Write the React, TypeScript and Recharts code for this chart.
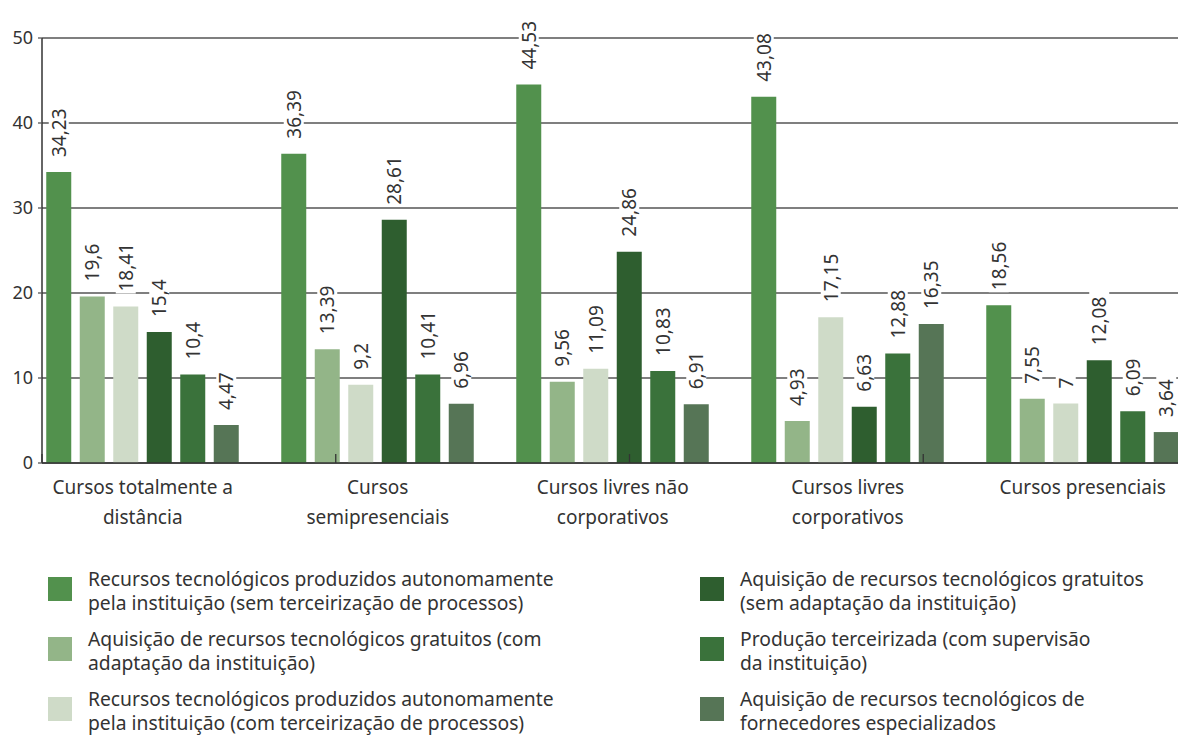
import React from "react";
import { BarChart, Bar, XAxis, YAxis, CartesianGrid, LabelList } from "recharts";

const categories = [
  "Cursos totalmente a distância",
  "Cursos semipresenciais",
  "Cursos livres não corporativos",
  "Cursos livres corporativos",
  "Cursos presenciais",
];

// tick labels, broken the way the reference wraps them
const categoryLines = [
  ["Cursos totalmente a", "distância"],
  ["Cursos", "semipresenciais"],
  ["Cursos livres não", "corporativos"],
  ["Cursos livres", "corporativos"],
  ["Cursos presenciais"],
];

const autonomoSem = [34.23, 36.39, 44.53, 43.08, 18.56];
const gratuitosCom = [19.6, 13.39, 9.56, 4.93, 7.55];
const autonomoCom = [18.41, 9.2, 11.09, 17.15, 7];
const gratuitosSem = [15.4, 28.61, 24.86, 6.63, 12.08];
const terceirizada = [10.4, 10.41, 10.83, 12.88, 6.09];
const fornecedores = [4.47, 6.96, 6.91, 16.35, 3.64];

const yTicks = [0, 10, 20, 30, 40, 50];

const series = [
  { key: "autonomoSem", color: "#52914d", name: "Recursos tecnológicos produzidos autonomamente pela instituição (sem terceirização de processos)" },
  { key: "gratuitosCom", color: "#93b588", name: "Aquisição de recursos tecnológicos gratuitos (com adaptação da instituição)" },
  { key: "autonomoCom", color: "#cfdbc8", name: "Recursos tecnológicos produzidos autonomamente pela instituição (com terceirização de processos)" },
  { key: "gratuitosSem", color: "#2e5e2f", name: "Aquisição de recursos tecnológicos gratuitos (sem adaptação da instituição)" },
  { key: "terceirizada", color: "#3a723b", name: "Produção terceirizada (com supervisão da instituição)" },
  { key: "fornecedores", color: "#567556", name: "Aquisição de recursos tecnológicos de fornecedores especializados" },
];

const legendLines = [
  ["Recursos tecnológicos produzidos autonomamente", "pela instituição (sem terceirização de processos)"],
  ["Aquisição de recursos tecnológicos gratuitos (com", "adaptação da instituição)"],
  ["Recursos tecnológicos produzidos autonomamente", "pela instituição (com terceirização de processos)"],
  ["Aquisição de recursos tecnológicos gratuitos", "(sem adaptação da instituição)"],
  ["Produção terceirizada (com supervisão", "da instituição)"],
  ["Aquisição de recursos tecnológicos de", "fornecedores especializados"],
];

const data = categories.map((c, i) => ({
  category: c,
  autonomoSem: autonomoSem[i],
  gratuitosCom: gratuitosCom[i],
  autonomoCom: autonomoCom[i],
  gratuitosSem: gratuitosSem[i],
  terceirizada: terceirizada[i],
  fornecedores: fornecedores[i],
}));

const FONT = '"Noto Sans", "Open Sans", sans-serif';
const TEXT = "#333";
const BAR_SIZE = 25;
const BAR_GAP = 8.5;
// 6 bars + one empty slot per group -> 35 slots on the base line
const SLOT_COUNT = categories.length * (series.length + 1);
const slotTicks = Array.from({ length: SLOT_COUNT + 1 }, (_, i) => i);

function fmt(v: number) {
  return String(v).replace(".", ",");
}

function ValueLabel(props: any) {
  const { value } = props;
  const x = Number(props.x);
  const y = Number(props.y);
  const width = Number(props.width);
  if (value == null) return null;
  const cx = x + width / 2;
  const ty = y - 15;
  const s = fmt(value);
  const len = s.length * 10.4;
  return (
    <g>
      <rect x={cx - 10} y={ty - len - 2} width={20} height={len + 4} fill="#fff" />
      <text
        x={cx}
        y={ty}
        transform={`rotate(-90, ${cx}, ${ty})`}
        textAnchor="start"
        dominantBaseline="central"
        fontSize={19}
        fontFamily={FONT}
        fill={TEXT}
      >
        {s}
      </text>
    </g>
  );
}

function GroupTick(props: any) {
  const x = Number(props.x);
  const y = Number(props.y);
  const { payload } = props;
  const lines = categoryLines[payload.index] || [payload.value];
  return (
    <text x={x} y={y} textAnchor="middle" fontSize={19} fontFamily={FONT} fill={TEXT}>
      {lines.map((l, i) => (
        <tspan key={i} x={x} dy={i === 0 ? 31 : 30}>
          {l}
        </tspan>
      ))}
    </text>
  );
}

function Legend() {
  const item = (idx: number, left: number, top: number) => (
    <div key={idx} style={{ position: "absolute", left, top, height: 48 }}>
      <span
        style={{
          position: "absolute",
          left: 0,
          top: 10,
          width: 24,
          height: 24,
          background: series[idx].color,
        }}
      />
      <div style={{ position: "absolute", left: 40, top: 0, whiteSpace: "nowrap", lineHeight: "24px", fontSize: 19.3, color: TEXT }}>
        {legendLines[idx].map((l, i) => (
          <div key={i}>{l}</div>
        ))}
      </div>
    </div>
  );
  return (
    <>
      {item(0, 48, 567)}
      {item(1, 48, 627)}
      {item(2, 48, 687)}
      {item(3, 700, 567)}
      {item(4, 700, 627)}
      {item(5, 700, 687)}
    </>
  );
}

export default function App() {
  return (
    <div
      style={{
        position: "absolute",
        left: 0,
        top: 0,
        width: 1178,
        height: 735,
        overflow: "hidden",
        background: "#fff",
        fontFamily: FONT,
      }}
    >
      <BarChart
        width={1217}
        height={560}
        data={data}
        margin={{ top: 38, right: 0, bottom: 0, left: 0 }}
        barGap={BAR_GAP}
        barSize={BAR_SIZE}
      >
        <CartesianGrid vertical={false} stroke="#555" strokeWidth={1.3} />
        {/* slot marks along the base line */}
        <XAxis
          xAxisId="slots"
          type="number"
          domain={[0, SLOT_COUNT]}
          allowDataOverflow
          ticks={slotTicks}
          tickCount={SLOT_COUNT + 1}
          interval={0}
          height={1}
          mirror
          tickSize={9}
          tickFormatter={() => ""}
          axisLine={{ stroke: "#333", strokeWidth: 1.5 }}
          tickLine={{ stroke: "#333", strokeWidth: 1.3 }}
        />
        <XAxis
          xAxisId="grp"
          dataKey="category"
          height={97}
          padding={{ left: -16.75, right: 16.75 }}
          axisLine={false}
          tickLine={false}
          tickSize={0}
          tickMargin={0}
          interval={0}
          tick={(p: any) => <GroupTick {...p} />}
        />
        <YAxis
          domain={[0, 50]}
          ticks={yTicks}
          width={42}
          tickSize={4}
          tickMargin={5}
          axisLine={{ stroke: "#333", strokeWidth: 1.5 }}
          tickLine={{ stroke: "#555", strokeWidth: 1.3 }}
          tick={{ fill: TEXT, fontSize: 18, fontFamily: FONT }}
        />
        {series.map((s) => (
          <Bar key={s.key} xAxisId="grp" dataKey={s.key} name={s.name} fill={s.color} isAnimationActive={false}>
            <LabelList dataKey={s.key} content={ValueLabel} />
          </Bar>
        ))}
      </BarChart>
      <Legend />
    </div>
  );
}
